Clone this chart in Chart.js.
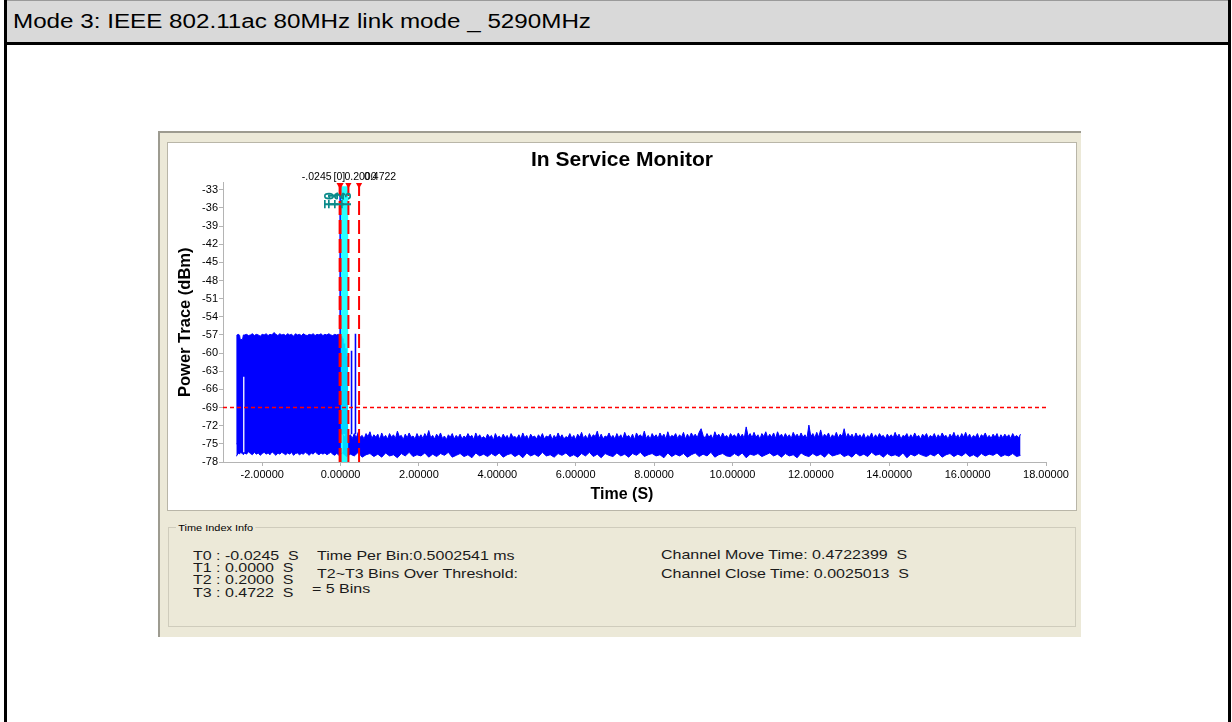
<!DOCTYPE html>
<html><head><meta charset="utf-8">
<script src="https://cdn.jsdelivr.net/npm/chart.js@4"></script>
<style>
html,body{margin:0;padding:0;background:#fff;}
body{width:1232px;height:722px;position:relative;overflow:hidden;font-family:"Liberation Sans",Arial,sans-serif;}
.abs{position:absolute;}
#frame{left:4px;top:0;width:1227px;height:722px;border-left:3px solid #000;border-right:3px solid #000;box-sizing:border-box;}
#header{left:7px;top:0;width:1221px;height:45px;background:#d9d9d9;border-bottom:3px solid #000;border-top:1px solid #9a9a9a;box-sizing:border-box;}
#htext{left:13px;top:11.4px;font-size:20px;line-height:20px;color:#000;white-space:pre;transform:scaleX(1.21);transform-origin:0 0;}
#panel{left:158px;top:131px;width:923px;height:506px;background:#ece9d8;border-top:2px solid #9d9b90;border-left:2px solid #9d9b90;box-sizing:border-box;}
#chartbox{left:167px;top:142px;width:910px;height:369px;background:#fff;border:1px solid #b9b6a8;box-sizing:border-box;}
#chartbox canvas{position:absolute;left:0;top:0;}
#group{left:168px;top:527px;width:908px;height:100px;border:1px solid #cfccbc;box-sizing:border-box;}
#glabel{left:176px;top:521px;font-size:9.5px;line-height:13px;background:#ece9d8;padding:0 2px;color:#000;transform:scaleX(1.15);transform-origin:0 0;}
.info{position:absolute;font-size:13px;line-height:13px;color:#1a1a1a;white-space:pre;transform:scaleX(1.23);transform-origin:0 0;}
</style>
</head>
<body>
<div id="frame" class="abs"></div>
<div id="header" class="abs"></div>
<div id="htext" class="abs">Mode 3: IEEE 802.11ac 80MHz link mode _ 5290MHz</div>
<div id="panel" class="abs"></div>
<div id="chartbox" class="abs"><canvas id="c" width="908" height="367"></canvas></div>
<div id="group" class="abs"></div>
<div id="glabel" class="abs">Time Index Info</div>
<div class="info" style="left:193px;top:548.9px;">T0 : -0.0245  S</div>
<div class="info" style="left:193px;top:560.9px;">T1 : 0.0000  S</div>
<div class="info" style="left:193px;top:572.9px;">T2 : 0.2000  S</div>
<div class="info" style="left:193px;top:585.9px;">T3 : 0.4722  S</div>
<div class="info" style="left:317px;top:548.9px;">Time Per Bin:0.5002541 ms</div>
<div class="info" style="left:317px;top:567.2px;">T2~T3 Bins Over Threshold:</div>
<div class="info" style="left:312px;top:582.2px;">= 5 Bins</div>
<div class="info" style="left:661px;top:548.2px;">Channel Move Time: 0.4722399  S</div>
<div class="info" style="left:661px;top:567.2px;">Channel Close Time: 0.0025013  S</div>
<script>
// ---------------- data ----------------
const yTickValues = [-33,-36,-39,-42,-45,-48,-51,-54,-57,-60,-63,-66,-69,-72,-75,-78];
const xTickValues = [-2,0,2,4,6,8,10,12,14,16,18];
const thresholdDbm = -69;

const markerNames  = ['T0','T1','T2','T3'];
const markerTimes  = [-0.0245, 0, 0.2, 0.4722];
const markerLabels = ['-.0245','[0]','0.2000','0.4722'];

// trace before the channel move (upper / lower envelope)
const preTimes = [-2.66,-2.645,-2.60,-2.575,-2.56,-2.50,-2.48,
  -2.45,-2.40,-2.35,-2.30,-2.25,-2.20,-2.15,-2.10,-2.05,-2.00,
  -1.95,-1.90,-1.85,-1.80,-1.75,-1.70,-1.65,-1.60,-1.55,-1.50,
  -1.45,-1.40,-1.35,-1.30,-1.25,-1.20,-1.15,-1.10,-1.05,-1.00,
  -0.95,-0.90,-0.85,-0.80,-0.75,-0.70,-0.65,-0.60,-0.55,-0.50,
  -0.45,-0.40,-0.35,-0.30,-0.25,-0.20,-0.15,-0.10,-0.05,
  -0.01];
const preHigh = [-75.0,-57.0,-56.9,-57.1,-57.8,-57.7,-57.0,
  -57.0,-56.9,-57.1,-57.0,-56.8,-57.1,-56.9,-57.0,-57.2,-56.9,
  -57.0,-56.8,-57.1,-56.9,-57.0,-56.6,-56.9,-57.1,-56.8,-57.0,
  -56.9,-57.1,-56.8,-57.0,-56.9,-57.2,-56.8,-57.0,-56.9,-57.1,
  -56.8,-57.0,-57.1,-56.9,-57.0,-56.8,-57.1,-56.9,-57.0,-56.8,
  -57.1,-56.9,-57.0,-56.8,-57.0,-57.1,-56.9,-57.0,-56.9,
  -57.0];
const preLow = [-77.0,-76.9,-76.5,-76.7,-76.4,-76.6,-76.8,
  -76.5,-76.7,-76.3,-76.6,-76.8,-76.4,-76.7,-76.5,-76.9,-76.6,
  -76.4,-76.7,-76.5,-76.8,-76.3,-76.6,-76.9,-76.5,-76.7,-76.4,
  -76.6,-76.8,-76.5,-76.7,-76.4,-76.9,-76.6,-76.5,-76.8,-76.6,
  -76.7,-76.4,-76.6,-76.9,-76.5,-76.7,-76.3,-76.6,-76.8,-76.5,
  -76.7,-76.5,-76.8,-76.6,-76.4,-76.7,-76.9,-76.6,-76.8,
  -76.7];

// empty bin inside the early burst
const gapTime = -2.47;
const gapTop = -63.9, gapBottom = -76.4;

// isolated bins around the move (time, top, bottom)
const spikeTimes   = [-0.01, 0.03, 0.06, 0.10, 0.14, 0.17, 0.28, 0.38];
const spikeTops    = [-32.4, -57.2, -57.6, -58.4, -59.2, -60.5, -59.6, -56.8];
const spikeBottoms = [-77.0, -73.4, -73.4, -73.4, -73.4, -73.4, -73.4, -73.4];

// noise floor after the move: upper envelope every 0.05 s from 0.05 s
const floorHighStart = 0.05, floorHighStep = 0.05;
const floorHigh = [
  -73.4,-73.9,-73.2,-73.8,-73.5,-74.1,-73.3,-74.0,-73.1,-73.9,-73.6,-74.2,-73.3,-73.8,-73.0,-74.1,-73.5,-73.9,-73.4,-74.3,
  -73.2,-74.0,-73.6,-74.2,-73.3,-73.9,-73.5,-74.1,-72.9,-73.8,-73.6,-74.3,-73.4,-74.0,-73.2,-73.9,-73.7,-74.2,-73.3,-74.0,
  -73.5,-74.1,-73.3,-73.9,-72.8,-74.0,-73.6,-74.2,-73.4,-73.9,-73.2,-74.1,-73.7,-74.3,-73.5,-73.9,-73.3,-74.2,-73.6,-74.0,
  -73.4,-74.2,-73.7,-74.0,-73.3,-73.9,-73.6,-74.3,-73.2,-74.0,-73.5,-74.1,-73.8,-74.2,-73.4,-73.9,-73.6,-74.4,-73.3,-74.0,
  -73.7,-74.2,-73.4,-74.0,-73.6,-74.3,-73.3,-73.9,-73.8,-74.1,-73.5,-74.2,-73.2,-74.0,-73.6,-74.3,-73.4,-73.9,-73.7,-74.2,
  -73.5,-74.0,-73.3,-74.2,-73.7,-73.9,-73.4,-74.3,-73.6,-74.1,-73.2,-74.0,-73.5,-74.2,-73.8,-74.0,-73.3,-74.1,-73.6,-74.3,
  -73.4,-73.9,-73.1,-74.1,-73.6,-74.2,-73.3,-74.0,-73.5,-73.8,-72.9,-74.1,-73.4,-74.2,-73.7,-73.9,-73.2,-74.0,-73.6,-74.2,
  -73.3,-74.0,-73.5,-74.2,-73.1,-73.9,-73.6,-74.1,-73.4,-74.3,-73.2,-73.8,-73.5,-74.0,-72.9,-74.1,-73.6,-74.2,-73.3,-73.9,
  -73.5,-74.1,-73.2,-73.9,-73.4,-74.2,-73.0,-74.0,-73.6,-73.8,-73.3,-74.1,-73.5,-73.9,-73.1,-74.2,-73.4,-74.0,-73.2,-73.8,
  -73.4,-74.0,-73.1,-72.5,-73.6,-74.1,-73.3,-73.9,-73.5,-74.2,-73.0,-73.8,-73.4,-74.0,-73.2,-73.9,-73.6,-74.1,-73.3,-73.8,
  -73.5,-74.0,-73.2,-73.9,-73.4,-74.1,-72.2,-73.8,-73.3,-74.0,-73.1,-73.9,-73.5,-74.2,-73.3,-73.8,-73.0,-74.0,-73.4,-73.9,
  -73.2,-74.1,-73.0,-73.8,-73.4,-74.0,-73.3,-73.9,-73.5,-74.1,-73.1,-73.8,-73.4,-74.0,-73.2,-73.9,-73.5,-74.1,-71.9,-73.8,
  -73.3,-74.0,-73.1,-73.9,-72.7,-74.0,-73.4,-73.8,-73.2,-74.1,-73.5,-73.9,-73.1,-74.0,-73.4,-73.8,-72.5,-74.0,-73.3,-73.9,
  -73.4,-74.1,-73.2,-73.9,-73.5,-74.0,-73.3,-74.2,-73.6,-73.9,-73.2,-74.1,-73.5,-74.0,-73.3,-73.8,-73.6,-74.2,-73.4,-73.9,
  -73.5,-74.0,-73.1,-73.9,-73.4,-74.2,-73.6,-73.8,-73.3,-74.1,-73.5,-74.0,-73.2,-73.9,-73.6,-74.2,-73.4,-73.8,-73.3,-74.1,
  -73.6,-73.9,-73.3,-74.1,-73.5,-74.0,-73.2,-73.8,-73.6,-74.2,-73.4,-73.9,-73.1,-74.0,-73.5,-74.1,-73.3,-73.9,-73.1,-74.0,
  -73.4,-74.1,-73.6,-73.9,-73.3,-74.2,-73.5,-73.8,-73.2,-74.0,-73.6,-74.1,-73.4,-73.9,-73.3,-74.2,-73.5,-74.0,-73.4,-73.9,
  -73.5,-74.1,-73.3,-73.9,-73.6,-74.0,-73.4];
// noise floor lower envelope every 0.1 s from -0.05 s
const floorLowStart = -0.05, floorLowStep = 0.1;
const floorLow = [
  -76.9,-76.5,-77.1,-76.7,-77.0,-76.4,-77.2,-76.8,-76.6,-77.1,
  -76.7,-77.2,-76.5,-77.0,-76.8,-77.3,-76.6,-77.0,-76.4,-77.1,
  -76.8,-77.0,-76.5,-77.2,-76.7,-77.1,-76.6,-76.9,-76.4,-77.2,
  -76.9,-76.6,-77.1,-76.8,-77.3,-76.5,-77.0,-76.7,-77.1,-76.6,
  -77.0,-76.5,-77.2,-76.8,-76.6,-77.1,-76.7,-77.3,-76.5,-77.0,
  -76.7,-77.1,-76.4,-77.0,-76.8,-77.2,-76.6,-76.9,-76.5,-77.1,
  -76.8,-77.2,-76.6,-77.0,-76.4,-77.1,-76.7,-77.3,-76.6,-76.9,
  -77.1,-76.5,-77.0,-76.7,-77.2,-76.6,-76.9,-76.4,-77.1,-76.8,
  -76.6,-77.0,-76.8,-77.3,-76.5,-77.1,-76.7,-77.0,-76.6,-77.2,
  -76.8,-76.5,-77.1,-76.7,-77.0,-76.4,-77.2,-76.8,-76.6,-77.0,
  -77.1,-76.6,-77.0,-76.5,-77.3,-76.7,-76.9,-76.6,-77.1,-76.8,
  -76.5,-77.0,-76.7,-77.2,-76.6,-77.0,-76.8,-77.3,-76.5,-76.9,
  -77.1,-76.6,-77.0,-76.7,-77.2,-76.5,-77.0,-76.8,-76.6,-77.1,
  -76.8,-77.2,-76.5,-77.0,-76.7,-77.1,-76.4,-76.9,-76.7,-77.2,
  -76.6,-77.0,-76.8,-77.1,-76.5,-77.3,-76.7,-77.0,-76.6,-76.9,
  -77.1,-76.7,-77.0,-76.5,-77.2,-76.8,-76.6,-77.1,-76.7,-77.0,
  -76.5,-77.1,-76.8,-77.2,-76.6,-77.0,-76.7,-76.9,-76.5,-77.1,
  -76.8,-77.0,-76.6,-77.1,-76.9];

// ---------------- build ----------------
const Y_MIN = -78, Y_MAX = -31.8, X_MIN = -3, X_MAX = 18;
const BAND_TOP = -32.4, TRI_Y = -32.2;
const BLUE = '#0000ff';
const FONT = '"Liberation Sans", Arial, sans-serif';

const pts = (xs, ys) => xs.map((x, i) => ({x, y: ys[i]}));
const seq = (start, step, ys) => ys.map((y, i) => ({x: +(start + i * step).toFixed(4), y}));

const spikePts = [];
spikeTimes.forEach((t, i) => {
  spikePts.push({x: t, y: spikeBottoms[i]}, {x: t, y: spikeTops[i]}, {x: t, y: null});
});
const markerLinePts = [];
markerTimes.forEach(t => {
  markerLinePts.push({x: t, y: Y_MIN}, {x: t, y: BAND_TOP}, {x: t, y: null});
});

const base = {pointRadius: 0, tension: 0, fill: false};
const datasets = [
  {...base, label: 'preHigh', data: pts(preTimes, preHigh), borderColor: BLUE, borderWidth: 1, backgroundColor: BLUE, fill: '+1', order: 20},
  {...base, label: 'preLow', data: pts(preTimes, preLow), borderColor: BLUE, borderWidth: 1, order: 20},
  {...base, label: 'floorHigh', data: seq(floorHighStart, floorHighStep, floorHigh), borderColor: BLUE, borderWidth: 1, backgroundColor: BLUE, fill: '+1', order: 19},
  {...base, label: 'floorLow', data: seq(floorLowStart, floorLowStep, floorLow), borderColor: BLUE, borderWidth: 1, order: 19},
  {...base, label: 'spikes', data: spikePts, borderColor: BLUE, borderWidth: 1.6, spanGaps: false, order: 18},
  {...base, label: 'gap', data: [{x: gapTime, y: gapTop}, {x: gapTime, y: gapBottom}], borderColor: '#ffffff', borderWidth: 1.3, order: 17},
  {...base, label: 'band', data: [{x: markerTimes[1], y: BAND_TOP}, {x: markerTimes[2], y: BAND_TOP}], borderWidth: 0, borderColor: 'rgba(0,0,0,0)', backgroundColor: 'rgba(0,255,255,0.85)', fill: 'start', order: 16},
  {...base, label: 'threshold', data: [{x: X_MIN, y: thresholdDbm}, {x: X_MAX, y: thresholdDbm}], borderColor: '#ff0000', borderWidth: 1.5, borderDash: [4, 3], order: 15},
  {...base, label: 'markers', data: markerLinePts, borderColor: '#ff0000', borderWidth: 2, borderDash: [14, 5], spanGaps: false, order: 14},
  {label: 'tri', data: markerTimes.map(t => ({x: t, y: TRI_Y})), showLine: false, pointStyle: 'triangle', rotation: 180, pointRadius: 3.6, pointBackgroundColor: '#ff0000', pointBorderColor: '#ff0000', pointBorderWidth: 0, order: 13}
];

const markerTextPlugin = {
  id: 'markerText',
  afterDatasetsDraw(chart) {
    const {ctx, scales: {x, y}, chartArea} = chart;
    ctx.save();
    ctx.font = '10.5px ' + FONT;
    ctx.fillStyle = '#000';
    ctx.textBaseline = 'middle';
    const dx = [-8, -7, -4, 5];
    const al = ['right', 'left', 'left', 'left'];
    markerTimes.forEach((t, i) => {
      ctx.textAlign = al[i];
      ctx.fillText(markerLabels[i], x.getPixelForValue(t) + dx[i], chartArea.top - 5.5);
    });
    ctx.font = 'bold 14px ' + FONT;
    ctx.fillStyle = '#0a8a8a';
    ctx.textAlign = 'left';
    ctx.textBaseline = 'bottom';
    const ndx = [-2, 1, -1, -5];
    markerTimes.forEach((t, i) => {
      ctx.save();
      ctx.translate(x.getPixelForValue(t) + ndx[i], y.getPixelForValue(-36.1));
      ctx.rotate(-Math.PI / 2);
      ctx.fillText(markerNames[i], 0, 0);
      ctx.restore();
    });
    ctx.restore();
  }
};

const axisGray = '#b4b4b4';
new Chart(document.getElementById('c'), {
  type: 'line',
  data: {datasets},
  plugins: [markerTextPlugin],
  options: {
    responsive: false,
    animation: false,
    events: [],
    layout: {padding: 0},
    plugins: {
      legend: {display: false},
      tooltip: {enabled: false},
      title: {display: true, text: 'In Service Monitor', color: '#000',
        font: {family: FONT, size: 21, weight: 'bold', lineHeight: 1.2},
        padding: {top: 5, bottom: 9.3}},
      subtitle: {display: true, position: 'bottom', text: 'Time (S)', color: '#000',
        font: {family: FONT, size: 16, weight: 'bold', lineHeight: 1.2},
        padding: {top: 3.4, bottom: 5.4}}
    },
    scales: {
      x: {
        type: 'linear', min: X_MIN, max: X_MAX,
        afterBuildTicks: s => { s.ticks = xTickValues.map(v => ({value: v})); },
        afterFit: s => { s.height = 20; s.paddingRight = 30; },
        ticks: {color: '#000', font: {family: FONT, size: 11}, padding: 2.4, maxRotation: 0, autoSkip: false,
          callback: v => Number(v).toFixed(5)},
        grid: {drawOnChartArea: false, drawTicks: true, tickLength: 4, color: axisGray},
        border: {display: true, color: axisGray, width: 1}
      },
      y: {
        type: 'linear', min: Y_MIN, max: Y_MAX,
        afterBuildTicks: s => { s.ticks = yTickValues.map(v => ({value: v})); },
        afterFit: s => { s.width = 55; },
        ticks: {color: '#000', font: {family: FONT, size: 11}, padding: 1, autoSkip: false,
          callback: v => String(v)},
        grid: {drawOnChartArea: false, drawTicks: true, tickLength: 4, color: axisGray},
        border: {display: true, color: axisGray, width: 1},
        title: {display: true, text: 'Power Trace (dBm)', color: '#000',
          font: {family: FONT, size: 16.5, weight: 'bold', lineHeight: 1.2}, padding: {top: 7.1, bottom: 0}}
      }
    }
  }
});
</script>
</body></html>
